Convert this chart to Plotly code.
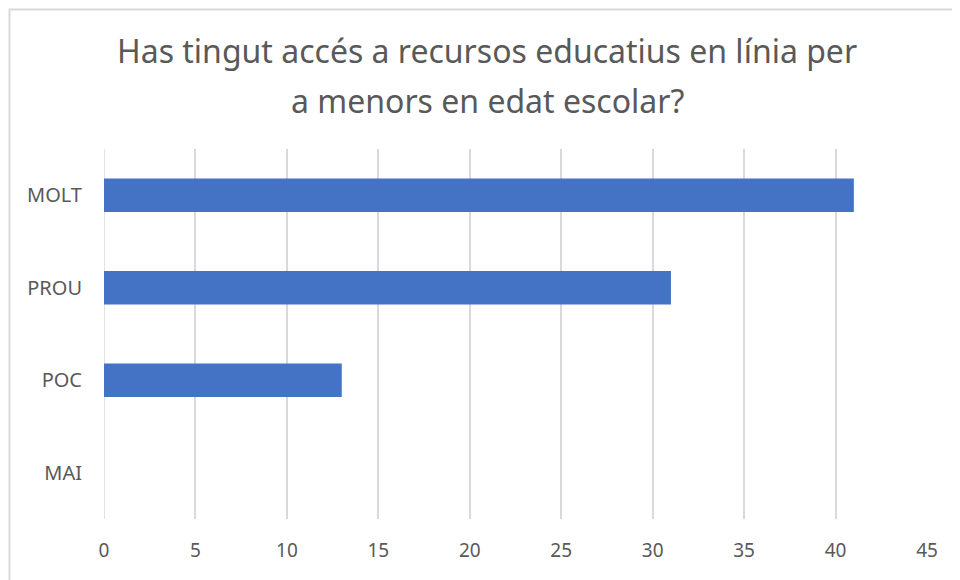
import plotly.graph_objects as go

categories = ["MAI", "POC", "PROU", "MOLT"]
values = [0, 13, 31, 41]
x_ticks = [0, 5, 10, 15, 20, 25, 30, 35, 40, 45]
title_lines = ["Has tingut accés a recursos educatius en línia per", "a menors en edat escolar?"]

# page renders with an 8px body margin; work in screen pixels and shift
OFF = 8
W, H = 960, 580
# target screen positions of plot area
SL, SR, ST, SB = 104, 927, 149, 519
L = SL - OFF
T = ST - OFF
R = W - (SR - OFF)
B = H - (SB - OFF)
pw, ph = W - L - R, H - T - B

def sy(py):
    # screen pixel y -> paper
    return (SB - py) / ph

def sx(px):
    return (px - SL) / pw

fig = go.Figure(go.Bar(
    y=categories, x=values, orientation="h",
    marker=dict(color="#4472C4", line=dict(width=0)),
))

fig.update_layout(
    width=W, height=H,
    margin=dict(l=L, r=R, t=T, b=B),
    paper_bgcolor="white", plot_bgcolor="white",
    bargap=0.64,
    showlegend=False,
    font=dict(family="Noto Sans, sans-serif", color="#595959", size=18),
)
fig.update_xaxes(
    range=[0, 45], tickvals=x_ticks, showgrid=True, gridcolor="#d9d9d9", gridwidth=1.5,
    zeroline=False, showline=False, ticks="", ticklabelstandoff=18,
    tickfont=dict(size=19, color="#595959"), fixedrange=True,
)
fig.update_yaxes(
    showgrid=False, zeroline=False, showline=False, ticks="", ticklabelstandoff=21,
    tickfont=dict(size=20, color="#595959"),
)
fig.add_shape(type="line", xref="x", yref="paper", x0=0, x1=0, y0=0, y1=1,
              line=dict(color="#d9d9d9", width=1.5), layer="below")

for txt, cy in zip(title_lines, [50, 100]):
    fig.add_annotation(text=txt, xref="paper", yref="paper",
                       x=sx(487), y=sy(cy),
                       xanchor="center", yanchor="middle", showarrow=False,
                       font=dict(size=32, color="#595959", family="Noto Sans, sans-serif"))

# chart frame (left and top edges visible, rest cut off by the crop)
fig.add_shape(type="rect", xref="paper", yref="paper",
              x0=sx(OFF + 1.5), x1=sx(990),
              y0=sy(600), y1=sy(OFF + 1.5),
              line=dict(color="#d9d9d9", width=2), fillcolor="rgba(0,0,0,0)")

fig.write_html("out.html")
